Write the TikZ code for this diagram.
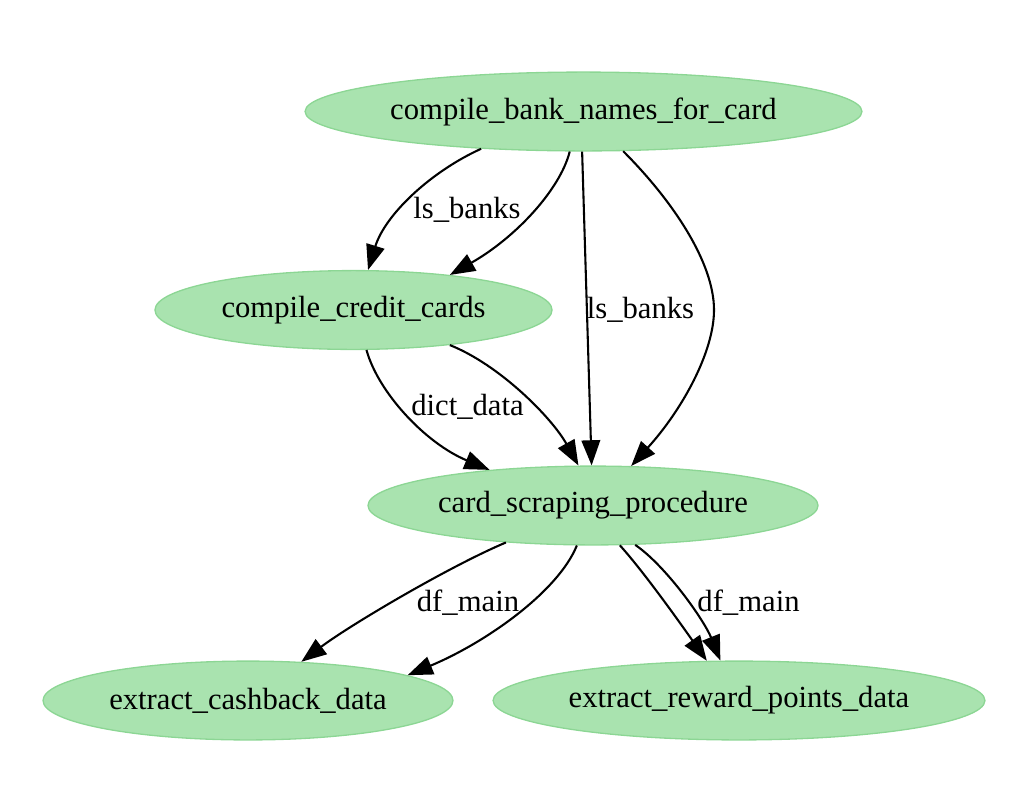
\documentclass[tikz,border=0pt]{standalone}
\usepackage{fontspec}
\setmainfont{Liberation Serif}
\usetikzlibrary{shapes.geometric, arrows.meta}
\definecolor{procfill}{RGB}{169,227,175}
\definecolor{procdraw}{RGB}{140,214,148}
\begin{document}
\begin{tikzpicture}[x=0.4566pt, y=-0.4566pt,
    proc/.style={ellipse, draw=procdraw, fill=procfill, line width=0.6pt, minimum height=36pt, inner sep=0pt, font=\fontsize{14}{16}\selectfont},
    elabel/.style={inner sep=1pt, font=\fontsize{14}{16}\selectfont},
    flow/.style={line width=0.95pt, -{Triangle[length=11.5pt, width=8.5pt]}}]
    \useasboundingbox (0,0) rectangle (1036,796);

    % Task nodes
    \node[proc, minimum width=254.3pt] (bank) at (583.5,111.5) {compile\_bank\_names\_for\_card};
    \node[proc, minimum width=181.3pt] (credit) at (353.5,310) {compile\_credit\_cards};
    \node[proc, minimum width=205.5pt] (scrape) at (593,505.5) {card\_scraping\_procedure};
    \node[proc, minimum width=187.2pt] (cash) at (248,700.5) {extract\_cashback\_data};
    \node[proc, minimum width=224.6pt] (reward) at (739,700.5) {extract\_reward\_points\_data};

    % Edge labels
    \node[elabel] (lb1) at (467,210) {ls\_banks};
    \node[elabel] (lb2) at (640.5,310) {ls\_banks};
    \node[elabel] (dd) at (467.5,407) {dict\_data};
    \node[elabel] (dm1) at (468,603) {df\_main};
    \node[elabel] (dm2) at (748.5,603) {df\_main};

    % Edges from compile_bank_names_for_card
    \draw[flow] (bank.200) .. controls (430,172) and (385,215) .. (credit.70);
    \draw[flow] (bank.251.6) .. controls (560,190) and (515,238) .. (credit.20.5);
    \draw[flow] (bank.268) -- (scrape.92);
    \draw[flow] (bank.315.7) .. controls (672,200) and (714,262) .. (714,310)
        .. controls (714,352) and (682,410) .. (scrape.46.3);

    % Edges from compile_credit_cards
    \draw[flow] (credit.288) .. controls (378,392) and (425,443) .. (scrape.161.7);
    \draw[flow] (credit.340.9) .. controls (500,365) and (552,418) .. (scrape.110.3);

    % Edges from card_scraping_procedure
    \draw[flow] (scrape.203.3) .. controls (450,566) and (350,625) .. (cash.36.9);
    \draw[flow] (scrape.248) .. controls (558,592) and (485,643) .. (cash.9.3);
    \draw[flow] (scrape.304.4) .. controls (645,573) and (685,630) .. (reward.129);
    \draw[flow] (scrape.317.9) .. controls (666,566) and (704,620) .. (reward.115.8);
\end{tikzpicture}
\end{document}
